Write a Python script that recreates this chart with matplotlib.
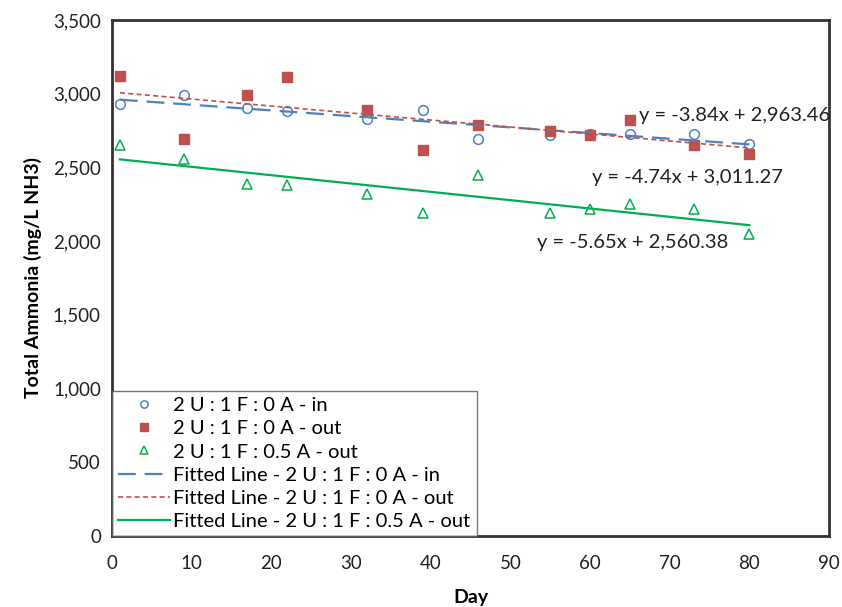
import matplotlib.pyplot as plt
import numpy as np

plt.rcParams['font.family'] = ['Lato', 'DejaVu Sans']

days = [1, 9, 17, 22, 32, 39, 46, 55, 60, 65, 73, 80]
nh3_in_0A = [2930, 2990, 2900, 2880, 2830, 2890, 2690, 2720, 2730, 2730, 2730, 2660]
nh3_out_0A = [3120, 2690, 2990, 3110, 2890, 2620, 2790, 2750, 2720, 2820, 2655, 2590]
nh3_out_05A = [2650, 2560, 2390, 2380, 2320, 2190, 2450, 2190, 2220, 2250, 2220, 2050]

slopes = [-3.84, -4.74, -5.65]
intercepts = [2963.46, 3011.27, 2560.38]
eq_labels = ['y = -3.84x + 2,963.46', 'y = -4.74x + 3,011.27', 'y = -5.65x + 2,560.38']
eq_pos = [(66.2, 2850), (60.2, 2430), (53.4, 1990)]

blue = '#4F81BD'
red = '#C0504D'
green = '#00B050'

fig = plt.figure(figsize=(8.42, 6.07), dpi=100)
ax = fig.add_axes([112 / 842, 1 - 536 / 607, (829 - 112) / 842, (536 - 20) / 607])

ax.plot(days, nh3_in_0A, 'o', ms=7, mfc='none', mec=blue, mew=1.1, label='2 U : 1 F : 0 A - in')
ax.plot(days, nh3_out_0A, 's', ms=7.5, color=red, mec=red, label='2 U : 1 F : 0 A - out')
ax.plot(days, nh3_out_05A, '^', ms=7, mfc='none', mec=green, mew=1.1, label='2 U : 1 F : 0.5 A - out')

# trend lines from the equations printed on the chart
xfit = np.array([days[0], days[-1]])
ax.plot(xfit, slopes[0] * xfit + intercepts[0], color=blue, lw=1.6, dashes=(8, 4),
        label='Fitted Line - 2 U : 1 F : 0 A - in')
ax.plot(xfit, slopes[1] * xfit + intercepts[1], color=red, lw=1.2, dashes=(3, 2),
        label='Fitted Line - 2 U : 1 F : 0 A - out')
ax.plot(xfit, slopes[2] * xfit + intercepts[2], color=green, lw=1.6,
        label='Fitted Line - 2 U : 1 F : 0.5 A - out')

for lab, (tx, ty) in zip(eq_labels, eq_pos):
    ax.text(tx, ty, lab, fontsize=14.5, va='center', ha='left', color='#222222')

ax.set_xlim(0, 90)
ax.set_ylim(0, 3500)
ax.set_xticks(range(0, 91, 10))
ax.set_yticks(range(0, 3501, 500))
ax.set_yticklabels([f'{v:,}' for v in range(0, 3501, 500)])
ax.tick_params(length=0, labelsize=13.5, colors='#222222')
ax.tick_params(axis='x', pad=14)
ax.tick_params(axis='y', pad=8)
for sp in ax.spines.values():
    sp.set_linewidth(2)
    sp.set_color('#333333')

ax.set_xlabel('Day', fontsize=14, fontweight='bold', labelpad=12)
ax.set_ylabel('Total Ammonia (mg/L NH3)', fontsize=14, fontweight='bold', labelpad=8)

leg = ax.legend(loc='lower left', fontsize=14.5, frameon=True, fancybox=False,
                handlelength=2.6, handletextpad=0.15, borderpad=0.3, labelspacing=0.3,
                borderaxespad=0, markerscale=0.75)
leg.get_frame().set_edgecolor('#555555')
leg.get_frame().set_linewidth(1)

fig.savefig('out.png', dpi=100)
